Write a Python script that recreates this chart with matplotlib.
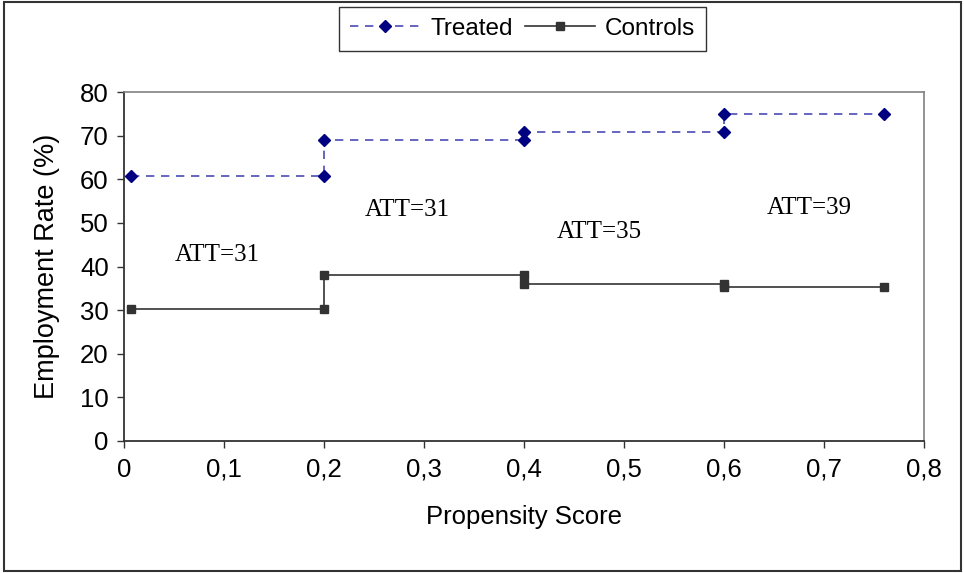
import matplotlib
matplotlib.use("Agg")
import matplotlib.pyplot as plt
from matplotlib.patches import Rectangle
from matplotlib.ticker import FuncFormatter

plt.rcParams["font.family"] = ["Liberation Sans", "DejaVu Sans"]

# step points
treated_x = [0.007, 0.2, 0.2, 0.4, 0.4, 0.6, 0.6, 0.76]
treated_y = [60.8, 60.8, 68.9, 68.9, 70.8, 70.8, 74.9, 74.9]
controls_x = [0.007, 0.2, 0.2, 0.4, 0.4, 0.6, 0.6, 0.76]
controls_y = [30.2, 30.2, 38.0, 38.0, 36.0, 36.0, 35.2, 35.2]

att_labels = ["ATT=31", "ATT=31", "ATT=35", "ATT=39"]
att_x = [0.093, 0.283, 0.475, 0.685]
att_y = [42.6, 53.0, 47.8, 53.5]

fig = plt.figure(figsize=(9.64, 5.73), dpi=100)
ax = fig.add_axes([0.1286, 0.2304, 0.83, 0.609])

ax.plot(treated_x, treated_y, color="#4b4bb4", linestyle=(0, (5, 4)), linewidth=1.2,
        marker="D", markersize=6, markerfacecolor="#000080", markeredgecolor="#000080",
        label="Treated")
ax.plot(controls_x, controls_y, color="#333333", linestyle="-", linewidth=1.2,
        marker="s", markersize=6, markerfacecolor="#333333", markeredgecolor="#333333",
        label="Controls")

for lab, x, y in zip(att_labels, att_x, att_y):
    ax.text(x, y, lab, ha="center", va="center", fontsize=18,
            family=["Liberation Serif", "DejaVu Serif"])

ax.set_xlim(0, 0.8)
ax.set_ylim(0, 80)
ax.set_xticks([i / 10 for i in range(9)])
ax.set_yticks(range(0, 81, 10))
ax.xaxis.set_major_formatter(FuncFormatter(lambda v, p: "0" if v == 0 else f"{v:.1f}".replace(".", ",")))
ax.tick_params(axis="both", direction="out", length=5, width=1, color="#333333",
               labelsize=18.5)
ax.tick_params(axis="x", pad=7)
ax.tick_params(axis="y", pad=6)

for s in ["top", "right"]:
    ax.spines[s].set_color("#808080")
    ax.spines[s].set_linewidth(1.2)
for s in ["left", "bottom"]:
    ax.spines[s].set_color("#333333")
    ax.spines[s].set_linewidth(1.3)

ax.set_xlabel("Propensity Score", fontsize=18.5, labelpad=17)
ax.set_ylabel("Employment Rate (%)", fontsize=19.5, labelpad=14)

leg = fig.legend(loc="upper center", bbox_to_anchor=(0.542, 0.988), ncol=2, fontsize=17.5,
                 frameon=True, fancybox=False, handlelength=2.9, handletextpad=0.4,
                 columnspacing=0.5, borderpad=0.45, borderaxespad=0)
leg.get_frame().set_edgecolor("#000000")
leg.get_frame().set_linewidth(1.0)

# outer chart border
fig.patches.append(Rectangle((0.004, 0.003), 0.993, 0.994, transform=fig.transFigure,
                             fill=False, edgecolor="#333333", linewidth=1.5))

fig.savefig("out.png", dpi=100)
